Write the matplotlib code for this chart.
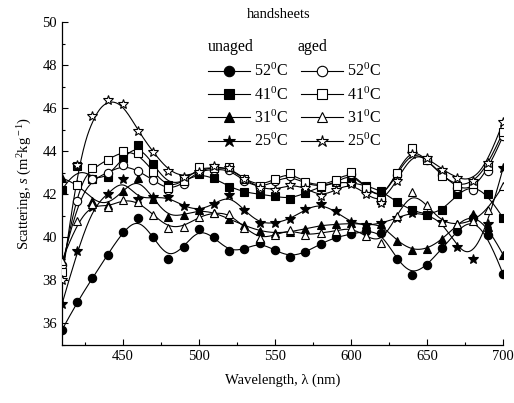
import numpy as np
import matplotlib
matplotlib.use('Agg')
import matplotlib.pyplot as plt

plt.rcParams['font.family'] = 'Liberation Serif'
plt.rcParams['mathtext.fontset'] = 'custom'
plt.rcParams['mathtext.rm'] = 'Liberation Serif'
plt.rcParams['mathtext.it'] = 'Liberation Serif:italic'

# wavelength grid (nm)
wl = list(range(410, 701, 10))

# unaged handsheets
unaged_52 = [35.7, 37.0, 38.1, 39.2, 40.25, 40.9, 40.0, 39.0, 39.55, 40.4,
             40.0, 39.35, 39.45, 39.75, 39.4, 39.1, 39.3, 39.7, 40.0, 40.15,
             40.3, 40.2, 39.0, 38.25, 38.7, 39.5, 40.3, 40.9, 40.1, 38.3]
unaged_41 = [42.2, 43.3, 42.7, 42.8, 43.7, 44.3, 43.4, 42.45, 42.6, 42.95,
             42.75, 42.35, 42.1, 42.0, 41.9, 41.8, 42.05, 42.35, 42.55, 42.55,
             42.4, 42.15, 41.65, 41.25, 41.05, 41.25, 42.0, 42.45, 42.0, 40.9]
unaged_31 = [42.75, 42.5, 41.7, 41.5, 42.15, 42.75, 41.8, 40.95, 41.05, 41.25,
             41.15, 40.85, 40.55, 40.3, 40.2, 40.25, 40.4, 40.55, 40.6, 40.65,
             40.6, 40.6, 39.85, 39.4, 39.45, 39.9, 40.6, 41.1, 40.5, 39.2]
unaged_25 = [36.9, 39.35, 41.4, 42.0, 42.7, 41.8, 41.85, 41.85, 41.45, 41.25,
             41.55, 41.95, 41.25, 40.65, 40.65, 40.85, 41.3, 41.55, 41.2, 40.7,
             40.55, 40.65, 40.9, 41.15, 41.05, 40.7, 39.55, 39.0, 40.6, 43.2]

# aged handsheets
aged_52 = [38.7, 41.7, 42.7, 43.0, 43.35, 43.1, 42.65, 42.2, 42.5, 43.1,
           43.15, 43.15, 42.6, 42.3, 42.6, 42.85, 42.5, 42.35, 42.55, 42.95,
           42.3, 41.8, 42.9, 44.0, 43.6, 42.9, 42.3, 42.2, 43.1, 44.7]
aged_41 = [38.4, 42.45, 43.2, 43.6, 44.0, 43.9, 43.05, 42.3, 42.6, 43.25,
           43.2, 43.25, 42.7, 42.4, 42.7, 43.0, 42.55, 42.4, 42.65, 43.05,
           42.3, 41.75, 43.0, 44.15, 43.6, 42.85, 42.4, 42.5, 43.3, 44.9]
aged_31 = [38.9, 40.75, 41.55, 41.4, 41.75, 41.65, 41.05, 40.45, 40.5, 40.95,
           41.15, 41.1, 40.45, 39.95, 40.1, 40.35, 40.1, 40.2, 40.3, 40.45,
           40.05, 39.75, 41.0, 42.1, 41.5, 40.7, 40.6, 40.75, 41.25, 42.4]
aged_25 = [38.0, 43.35, 45.65, 46.4, 46.2, 44.95, 43.95, 43.1, 42.8, 43.05,
           43.3, 43.2, 42.7, 42.3, 42.2, 42.45, 42.3, 41.9, 42.2, 42.5,
           42.0, 41.6, 42.6, 43.85, 43.7, 43.15, 42.75, 42.6, 43.45, 45.35]

temps = ['52', '41', '31', '25']


def bspline(xs, ys, num=600):
    # clamped cubic B-spline using the data points as control points
    P = np.column_stack([xs, ys]).astype(float)
    n = len(P)
    k = 3
    knots = np.concatenate([np.zeros(k), np.arange(n - k + 1), np.full(k, n - k)])
    t = np.linspace(0, n - k, num)
    t[-1] -= 1e-9
    N = np.zeros((num, len(knots) - 1))
    for i in range(len(knots) - 1):
        N[:, i] = (t >= knots[i]) & (t < knots[i + 1])
    for d in range(1, k + 1):
        Nn = np.zeros((num, len(knots) - 1 - d))
        for i in range(len(knots) - 1 - d):
            a = knots[i + d] - knots[i]
            b = knots[i + d + 1] - knots[i + 1]
            left = (t - knots[i]) / a * N[:, i] if a > 0 else 0
            right = (knots[i + d + 1] - t) / b * N[:, i + 1] if b > 0 else 0
            Nn[:, i] = left + right
        N = Nn
    C = N @ P
    return C[:, 0], C[:, 1]


fig = plt.figure(figsize=(5.14, 4.03), dpi=100)
ax = fig.add_axes([62 / 514, 1 - 345 / 403, 441 / 514, 323 / 403])

unaged = [unaged_52, unaged_41, unaged_31, unaged_25]
aged = [aged_52, aged_41, aged_31, aged_25]
markers = ['o', 's', '^', '*']
msizes = [6, 5.5, 6, 7.5]

handles = []
for series, fill in [(unaged, 'black'), (aged, 'white')]:
    for vals, m, ms, t in zip(series, markers, msizes, temps):
        sx, sy = bspline(wl, vals)
        ax.plot(sx, sy, color='black', lw=0.8, zorder=2)
        ax.plot(wl, vals, ls='none', marker=m, ms=ms, mfc=fill, mec='black',
                mew=0.8, zorder=3)
        h, = ax.plot([], [], color='black', lw=0.8, marker=m, ms=ms + 1.5,
                     mfc=fill, mec='black', mew=0.8)
        h.set_label(t + r'$^{\rm 0}$C')
        handles.append(h)

ax.set_xlim(410, 700)
ax.set_ylim(35, 50)
ax.set_xticks(range(450, 701, 50))
ax.set_xticks(range(425, 701, 25), minor=True)
ax.set_yticks(range(36, 51, 2))
ax.set_yticks(range(35, 51, 1), minor=True)
ax.tick_params(which='both', direction='in', labelsize=10.5, width=0.8)
ax.tick_params(which='major', length=4)
ax.tick_params(which='minor', length=2.5)
ax.spines['top'].set_visible(False)
ax.spines['right'].set_visible(False)
ax.spines['left'].set_linewidth(0.9)
ax.spines['bottom'].set_linewidth(0.9)

ax.set_xlabel('Wavelength, λ (nm)', fontsize=10.5, labelpad=8)
ax.set_ylabel(r'Scattering, $s$ (m$^{\rm 2}$kg$^{\rm -1}$)', fontsize=10.5,
              labelpad=6)

fig.text(279 / 514, 1 - 14 / 403, 'handsheets', fontsize=10.5,
         ha='center', va='center')
fig.text(208 / 514, 1 - 47 / 403, 'unaged', fontsize=11.5, va='center')
fig.text(297 / 514, 1 - 47 / 403, 'aged', fontsize=11.5, va='center')

fig.legend(handles=handles, ncol=2, loc='upper left', frameon=False,
           bbox_to_anchor=(208 / 514, 1 - 63 / 403), borderpad=0,
           borderaxespad=0, handlelength=2.6, handletextpad=0.3,
           columnspacing=0.8, labelspacing=0.38, fontsize=11.5)

fig.savefig('out.png', dpi=100)
